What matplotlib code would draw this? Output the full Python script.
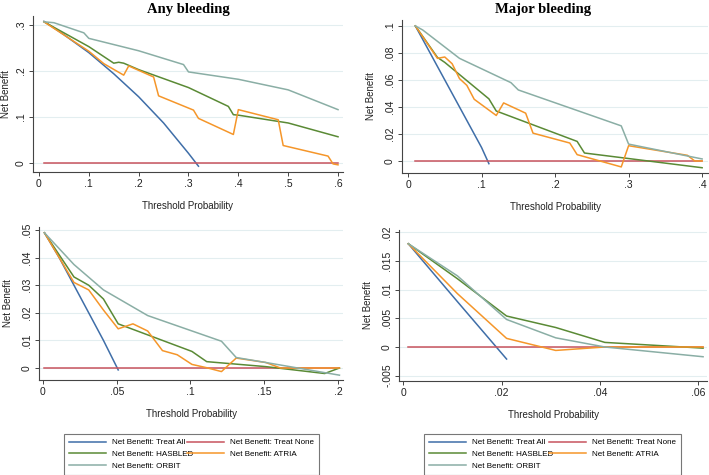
import numpy as np
import matplotlib.pyplot as plt

plt.rcParams["font.family"] = ["Liberation Sans", "DejaVu Sans"]

# ---- data (threshold prob, net benefit) ----
# panel A: any bleeding
a_all_x = [0.01, 0.05, 0.10, 0.15, 0.20, 0.25, 0.30, 0.32]
a_all_y = [0.308, 0.279, 0.240, 0.194, 0.144, 0.087, 0.021, -0.007]
a_none_x = [0.01, 0.60]
a_none_y = [0.0, 0.0]
a_has_x = [0.01, 0.10, 0.15, 0.16, 0.17, 0.20, 0.30, 0.38, 0.39, 0.40, 0.50, 0.60]
a_has_y = [0.307, 0.253, 0.217, 0.219, 0.217, 0.203, 0.164, 0.123, 0.105, 0.104, 0.087, 0.057]
a_atr_x = [0.01, 0.10, 0.13, 0.17, 0.18, 0.23, 0.24, 0.31, 0.32, 0.39, 0.40, 0.48, 0.49, 0.58, 0.59, 0.60]
a_atr_y = [0.307, 0.243, 0.216, 0.191, 0.211, 0.187, 0.146, 0.115, 0.097, 0.062, 0.116, 0.094, 0.038, 0.015, -0.002, -0.004]
a_orb_x = [0.01, 0.03, 0.09, 0.10, 0.20, 0.29, 0.30, 0.40, 0.50, 0.60]
a_orb_y = [0.307, 0.305, 0.283, 0.271, 0.244, 0.214, 0.198, 0.182, 0.159, 0.116]

# panel B: major bleeding
b_all_x = [0.01, 0.05, 0.10, 0.11]
b_all_y = [0.100, 0.060, 0.010, -0.002]
b_none_x = [0.01, 0.40]
b_none_y = [0.0, 0.0]
b_has_x = [0.01, 0.04, 0.05, 0.11, 0.12, 0.23, 0.24, 0.40]
b_has_y = [0.100, 0.0767, 0.073, 0.046, 0.037, 0.0145, 0.0059, -0.005]
b_atr_x = [0.01, 0.04, 0.05, 0.06, 0.07, 0.08, 0.09, 0.12, 0.13, 0.16, 0.17, 0.22, 0.23, 0.29, 0.30, 0.38, 0.39, 0.40]
b_atr_y = [0.100, 0.076, 0.077, 0.072, 0.061, 0.056, 0.0457, 0.0337, 0.043, 0.0354, 0.0206, 0.0133, 0.0047, -0.0044, 0.0113, 0.0042, 0.0, 0.0]
b_orb_x = [0.01, 0.02, 0.07, 0.14, 0.15, 0.29, 0.30, 0.40]
b_orb_y = [0.100, 0.097, 0.076, 0.058, 0.0526, 0.026, 0.0125, 0.0015]

# panel C: any bleeding (second cohort)
c_all_x = [0.001, 0.011, 0.021, 0.031, 0.041, 0.051]
c_all_y = [0.049, 0.040, 0.030, 0.020, 0.010, -0.0007]
c_none_x = [0.001, 0.201]
c_none_y = [0.0, 0.0]
c_has_x = [0.001, 0.021, 0.031, 0.041, 0.051, 0.101, 0.111, 0.151, 0.191, 0.201]
c_has_y = [0.049, 0.033, 0.030, 0.025, 0.016, 0.006, 0.0023, 0.0005, -0.002, 0.0]
c_atr_x = [0.001, 0.021, 0.031, 0.041, 0.051, 0.061, 0.071, 0.081, 0.091, 0.101, 0.111, 0.121, 0.131, 0.151, 0.161, 0.201]
c_atr_y = [0.049, 0.031, 0.0283, 0.021, 0.0142, 0.016, 0.0134, 0.0063, 0.0048, 0.0013, 0.0001, -0.0013, 0.0036, 0.002, 0.0, 0.0]
c_orb_x = [0.001, 0.021, 0.041, 0.071, 0.121, 0.131, 0.151, 0.201]
c_orb_y = [0.049, 0.0375, 0.0283, 0.019, 0.0097, 0.0038, 0.002, -0.0026]

# panel D: major bleeding (second cohort)
d_all_x = [0.001, 0.011, 0.021]
d_all_y = [0.018, 0.0079, -0.0021]
d_none_x = [0.001, 0.061]
d_none_y = [0.0, 0.0]
d_has_x = [0.001, 0.011, 0.021, 0.031, 0.041, 0.061]
d_has_y = [0.018, 0.0119, 0.0054, 0.0034, 0.0008, -0.0002]
d_atr_x = [0.001, 0.011, 0.021, 0.031, 0.041, 0.061]
d_atr_y = [0.018, 0.0093, 0.0015, -0.0006, 0.0, 0.0]
d_orb_x = [0.001, 0.011, 0.021, 0.031, 0.041, 0.061]
d_orb_y = [0.018, 0.0124, 0.0048, 0.0016, 0.0, -0.0017]

labels = ["Net Benefit: Treat All", "Net Benefit: Treat None", "Net Benefit: HASBLED",
          "Net Benefit: ATRIA", "Net Benefit: ORBIT"]
colors = ["#3f6ea8", "#c8545e", "#5a8a35", "#f5962a", "#8aaea5"]

W, H = 709, 475
fig = plt.figure(figsize=(W / 100, H / 100), dpi=100)
fig.patch.set_facecolor("white")


def px_axes(l, t, r, b):
    return fig.add_axes([l / W, 1 - b / H, (r - l) / W, (b - t) / H])


panels = [
    # rect px, xlim, ylim, xticks, xticklabels, yticks, yticklabels, series, ylabel x px
    ((33, 16, 343, 172), (-0.012, 0.61), (-0.0196, 0.3196),
     [0, .1, .2, .3, .4, .5, .6], ["0", ".1", ".2", ".3", ".4", ".5", ".6"],
     [0, .1, .2, .3], ["0", ".1", ".2", ".3"],
     [(a_all_x, a_all_y), (a_none_x, a_none_y), (a_has_x, a_has_y), (a_atr_x, a_atr_y), (a_orb_x, a_orb_y)],
     6),
    ((402, 20, 708, 173), (-0.0082, 0.408), (-0.0089, 0.1044),
     [0, .1, .2, .3, .4], ["0", ".1", ".2", ".3", ".4"],
     [0, .02, .04, .06, .08, .1], ["0", ".02", ".04", ".06", ".08", ".1"],
     [(b_all_x, b_all_y), (b_none_x, b_none_y), (b_has_x, b_has_y), (b_atr_x, b_atr_y), (b_orb_x, b_orb_y)],
     371),
    ((39, 227, 343, 380), (-0.0027, 0.2034), (-0.00435, 0.0511),
     [0, .05, .1, .15, .2], ["0", ".05", ".1", ".15", ".2"],
     [0, .01, .02, .03, .04, .05], ["0", ".01", ".02", ".03", ".04", ".05"],
     [(c_all_x, c_all_y), (c_none_x, c_none_y), (c_has_x, c_has_y), (c_atr_x, c_atr_y), (c_orb_x, c_orb_y)],
     8),
    ((399, 230, 707, 381), (-0.0009, 0.0618), (-0.00593, 0.0204),
     [0, .02, .04, .06], ["0", ".02", ".04", ".06"],
     [-.005, 0, .005, .01, .015, .02], ["-.005", "0", ".005", ".01", ".015", ".02"],
     [(d_all_x, d_all_y), (d_none_x, d_none_y), (d_has_x, d_has_y), (d_atr_x, d_atr_y), (d_orb_x, d_orb_y)],
     368),
]

axes = []
for rect, xl, yl, xt, xtl, yt, ytl, series, ylab_x in panels:
    ax = px_axes(*rect)
    axes.append(ax)
    for (x, y), c, lab in zip(series, colors, labels):
        ax.plot(x, y, color=c, lw=1.1, label=lab)
    ax.set_xlim(*xl)
    ax.set_ylim(*yl)
    ax.set_xticks(xt)
    ax.set_xticklabels(xtl, fontsize=7.5)
    ax.set_yticks(yt)
    ax.set_yticklabels(ytl, fontsize=7.5, rotation=90, va="center")
    for s in ["top", "right"]:
        ax.spines[s].set_visible(False)
    for s in ["left", "bottom"]:
        ax.spines[s].set_color("#444444")
        ax.spines[s].set_linewidth(0.8)
    ax.tick_params(length=3, width=0.7, color="#444444", labelcolor="#222222", pad=2)
    ax.grid(axis="y", color="#e3eef0", lw=0.8)
    ax.set_axisbelow(True)
    ax.set_xlabel("Threshold Probability", fontsize=7, labelpad=9, color="#222222")
    ax.set_ylabel("Net Benefit", fontsize=7, color="#222222")
    # label anchor is its bottom (right side once rotated), so shift by half its height
    lx = (ylab_x + 5 - rect[0]) / (rect[2] - rect[0])
    ax.yaxis.set_label_coords(lx, 0.5)

fig.text(188 / W, 1 - 10 / H, "Any bleeding", ha="center", va="center",
         fontsize=10.5, fontweight="bold", family="Liberation Serif")
fig.text(543 / W, 1 - 10 / H, "Major bleeding", ha="center", va="center",
         fontsize=10.5, fontweight="bold", family="Liberation Serif")

# legends under the bottom panels
for ax, (l, r) in zip(axes[2:], [(60, 323), (420, 685)]):
    h, lb = ax.get_legend_handles_labels()
    order = [0, 2, 4, 1, 3]
    leg = fig.legend([h[i] for i in order], [lb[i] for i in order], ncol=2,
                     loc="upper left", bbox_to_anchor=(l / W, 1 - 430 / H, (r - l) / W, 0),
                     mode="expand", fontsize=5.8, frameon=True, fancybox=False,
                     edgecolor="#555555", handlelength=4.6, labelspacing=0.5,
                     borderpad=0.6, handletextpad=0.8, columnspacing=1.0)
    leg.get_frame().set_linewidth(0.8)

fig.savefig("out.png", dpi=100)
